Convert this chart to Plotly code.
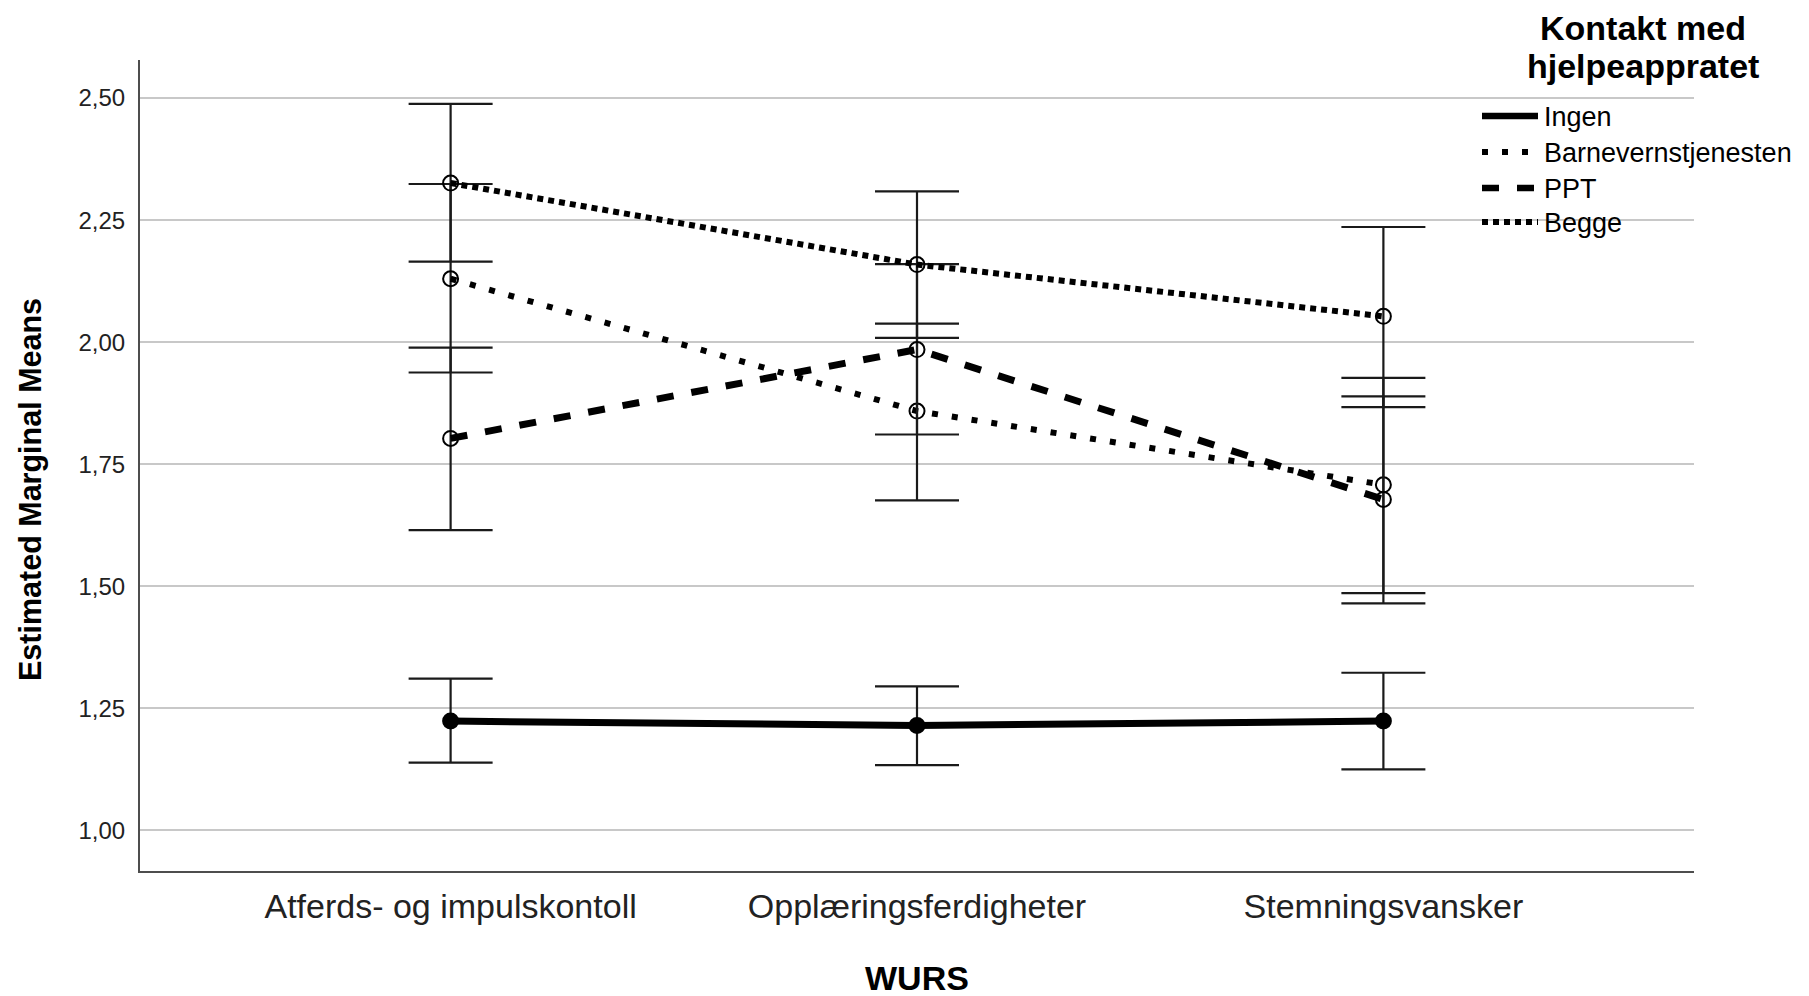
import plotly.graph_objects as go

# ---------------- data ----------------
categories = ["Atferds- og impulskontoll", "Opplæringsferdigheter", "Stemningsvansker"]
series_names = ["Ingen", "Barnevernstjenesten", "PPT", "Begge"]

ingen_mean = [1.224, 1.215, 1.224]
ingen_low = [1.139, 1.134, 1.125]
ingen_high = [1.311, 1.295, 1.323]

barnevern_mean = [2.130, 1.859, 1.708]
barnevern_low = [1.938, 1.676, 1.486]
barnevern_high = [2.324, 2.038, 1.927]

ppt_mean = [1.803, 1.985, 1.678]
ppt_low = [1.615, 1.811, 1.465]
ppt_high = [1.989, 2.160, 1.889]

begge_mean = [2.326, 2.159, 2.053]
begge_low = [2.165, 2.009, 1.867]
begge_high = [2.488, 2.309, 2.236]

y_tickvals = [1.00, 1.25, 1.50, 1.75, 2.00, 2.25, 2.50]
y_ticktext = ["1,00", "1,25", "1,50", "1,75", "2,00", "2,25", "2,50"]

legend_title_lines = ["Kontakt med", "hjelpeappratet"]
y_title = "Estimated Marginal Means"
x_title = "WURS"

# ---------------- layout geometry ----------------
OFF = 8  # default page body margin
W, H = 1809 - OFF, 996 - OFF
PL, PR, PT, PB = 140 - OFF, 1694 - OFF, 60 - OFF, 871 - OFF  # plot area (figure px)
FONT = "Arial, Liberation Sans, sans-serif"


def px2x(p):
    """screen pixel (reference) -> paper x"""
    return (p - OFF - PL) / (PR - PL)


def px2y(p):
    """screen pixel (reference) -> paper y"""
    return (PB - (p - OFF)) / (PB - PT)


styles = {
    "Ingen": dict(dash="solid", width=7, symbol="circle", msize=15),
    "Barnevernstjenesten": dict(dash="6px,14px", width=6, symbol="circle-open", msize=15),
    "PPT": dict(dash="17px,18px", width=7, symbol="circle-open", msize=15),
    "Begge": dict(dash="6px,5px", width=6, symbol="circle-open", msize=15),
}

data = {
    "Ingen": (ingen_mean, ingen_low, ingen_high),
    "Barnevernstjenesten": (barnevern_mean, barnevern_low, barnevern_high),
    "PPT": (ppt_mean, ppt_low, ppt_high),
    "Begge": (begge_mean, begge_low, begge_high),
}

fig = go.Figure()
for name in series_names:
    m, lo, hi = data[name]
    st = styles[name]
    fig.add_trace(go.Scatter(
        x=categories, y=m, name=name, mode="lines+markers",
        line=dict(color="black", width=st["width"], dash=st["dash"]),
        marker=dict(symbol=st["symbol"], size=st["msize"], color="black",
                    line=dict(color="black", width=2)),
        error_y=dict(type="data", symmetric=False,
                     array=[h - v for h, v in zip(hi, m)],
                     arrayminus=[v - l for v, l in zip(m, lo)],
                     color="#1a1a1a", thickness=2.2, width=42),
        showlegend=False, hoverinfo="skip",
    ))

# ---------------- manual legend ----------------
legend_rows_px = [116, 152, 188, 222]
shapes = []
annotations = []
for name, ypx in zip(series_names, legend_rows_px):
    st = styles[name]
    shapes.append(dict(type="line", xref="paper", yref="paper",
                       x0=px2x(1482), x1=px2x(1538), y0=px2y(ypx), y1=px2y(ypx),
                       line=dict(color="black", width=min(st["width"], 6.5), dash=st["dash"])))
    annotations.append(dict(text=name, xref="paper", yref="paper",
                            x=px2x(1542), y=px2y(ypx + 1), xanchor="left", yanchor="middle",
                            showarrow=False, font=dict(family=FONT, size=27, color="black")))

for line, ypx in zip(legend_title_lines, [28, 66]):
    annotations.append(dict(text="<b>" + line + "</b>", xref="paper", yref="paper",
                            x=px2x(1643), y=px2y(ypx), xanchor="center", yanchor="middle",
                            showarrow=False, font=dict(family=FONT, size=34, color="black")))

annotations.append(dict(text="<b>" + y_title + "</b>", xref="paper", yref="paper",
                        x=px2x(30), y=px2y(490), xanchor="center", yanchor="middle",
                        textangle=-90, showarrow=False,
                        font=dict(family=FONT, size=30.5, color="black")))
annotations.append(dict(text="<b>" + x_title + "</b>", xref="paper", yref="paper",
                        x=px2x(917), y=px2y(978), xanchor="center", yanchor="middle",
                        showarrow=False, font=dict(family=FONT, size=34, color="black")))

fig.update_layout(
    width=W, height=H,
    margin=dict(l=PL, r=W - PR, t=PT, b=H - PB, pad=0),
    paper_bgcolor="white", plot_bgcolor="white",
    font=dict(family=FONT, color="black"),
    shapes=shapes, annotations=annotations,
    showlegend=False,
)
fig.update_xaxes(
    type="category", range=[-0.666, 2.666],
    showgrid=False, zeroline=False,
    showline=True, linecolor="#4d4d4d", linewidth=2,
    ticks="", tickfont=dict(family=FONT, size=34, color="#222222"),
    ticklabelstandoff=4,
)
fig.update_yaxes(
    range=[0.917, 2.578],
    tickvals=y_tickvals, ticktext=y_ticktext,
    showgrid=True, gridcolor="#c8c8c8", gridwidth=2,
    zeroline=False,
    showline=True, linecolor="#4d4d4d", linewidth=2,
    ticks="", tickfont=dict(family=FONT, size=24, color="#222222"),
    ticklabelstandoff=8,
)

fig.write_html("out.html")
